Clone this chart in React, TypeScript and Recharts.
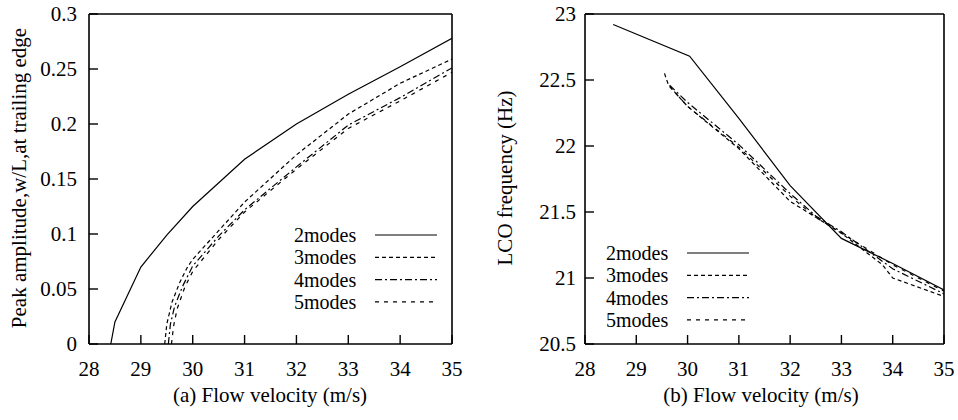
import { LineChart, Line, XAxis, YAxis, Legend } from "recharts"

const modeNames = ["2modes", "3modes", "4modes", "5modes"]
const modeDashes = ["", "4 3", "7 3 2 3", "4 5"]

const velocityTicks = [28, 29, 30, 31, 32, 33, 34, 35]
const amplitudeTicks = [0, 0.05, 0.1, 0.15, 0.2, 0.25, 0.3]
const frequencyTicks = [20.5, 21, 21.5, 22, 22.5, 23]

// (a) peak amplitude
const ampVel2 = [28.42, 28.5, 29, 29.5, 30, 31, 32, 33, 34, 35]
const amp2 = [0, 0.02, 0.07, 0.099, 0.125, 0.168, 0.2, 0.227, 0.252, 0.278]
const ampVel3 = [29.46, 29.5, 29.6, 29.75, 29.9, 30, 30.5, 31, 32, 33, 34, 35]
const amp3 = [0, 0.018, 0.038, 0.056, 0.07, 0.077, 0.103, 0.129, 0.172, 0.209, 0.237, 0.259]
const ampVel4 = [29.53, 29.57, 29.65, 29.8, 30, 30.5, 31, 32, 33, 34, 35]
const amp4 = [0, 0.018, 0.034, 0.052, 0.071, 0.098, 0.122, 0.161, 0.199, 0.224, 0.251]
const ampVel5 = [29.59, 29.63, 29.7, 29.85, 30, 30.5, 31, 32, 33, 34, 35]
const amp5 = [0, 0.016, 0.032, 0.052, 0.066, 0.095, 0.12, 0.159, 0.196, 0.221, 0.247]

// (b) LCO frequency
const freqVel2 = [28.55, 30.04, 31, 32, 33, 34, 35]
const freq2 = [22.92, 22.68, 22.21, 21.7, 21.3, 21.11, 20.91]
const freqVel3 = [29.55, 29.62, 29.7, 30, 31, 32, 32.5, 33, 33.5, 33.8, 34, 35]
const freq3 = [22.55, 22.47, 22.43, 22.3, 21.98, 21.58, 21.46, 21.34, 21.19, 21.1, 21.0, 20.86]
const freqVel4 = [29.65, 30, 31, 32, 32.5, 33, 34, 35]
const freq4 = [22.46, 22.33, 22.01, 21.64, 21.47, 21.35, 21.07, 20.88]
const freqVel5 = [29.65, 30, 31, 32, 32.5, 33, 34, 35]
const freq5 = [22.45, 22.3, 21.99, 21.62, 21.46, 21.34, 21.1, 20.9]

const zip = (xs: number[], ys: number[]) => xs.map((x, i) => ({ x, y: ys[i] }))

const ampSeries = [zip(ampVel2, amp2), zip(ampVel3, amp3), zip(ampVel4, amp4), zip(ampVel5, amp5)]
const freqSeries = [zip(freqVel2, freq2), zip(freqVel3, freq3), zip(freqVel4, freq4), zip(freqVel5, freq5)]

const font = "Liberation Serif, Times New Roman, Times, DejaVu Serif, serif"
const tickStyle = { fontFamily: font, fontSize: 21, fill: "#000" }
const axisLine = { stroke: "#000", strokeWidth: 1.6 }
const tickLine = { stroke: "#000", strokeWidth: 1.4 }

function ModeLegend() {
  return (
    <svg width={170} height={94} style={{ display: "block", fontFamily: font }}>
      {modeNames.map((name, i) => (
        <g key={name}>
          <text
            x={0}
            y={13 + i * 22.3}
            dominantBaseline="central"
            style={{ fontFamily: font, fontSize: 20 }}
            fill="#000"
          >
            {name}
          </text>
          <line
            x1={81}
            x2={143}
            y1={13 + i * 22.3}
            y2={13 + i * 22.3}
            stroke="#000"
            strokeWidth={1.2}
            strokeDasharray={modeDashes[i] || undefined}
          />
        </g>
      ))}
    </svg>
  )
}

type PanelProps = {
  series: { x: number; y: number }[][]
  yTicks: number[]
  yDomain: [number, number]
  yAxisWidth: number
  rightWidth: number
  yTickMargin: number
  yLabel: string
  yLabelX: number
  xLabel: string
  xLabelX: number
  legendLeft: number
  legendTop: number
}

function Panel(p: PanelProps) {
  return (
    <LineChart width={479} height={420} margin={{ top: 0, right: 0, bottom: 0, left: 0 }} style={{ fontFamily: font }}>
      <XAxis
        xAxisId="b"
        type="number"
        dataKey="x"
        domain={[28, 35]}
        ticks={velocityTicks}
        allowDataOverflow
        height={76}
        tickSize={-9}
        tickMargin={26}
        tick={tickStyle}
        axisLine={axisLine}
        tickLine={tickLine}
        label={{
          content: () => (
            <text x={p.xLabelX} y={395} textAnchor="middle" dominantBaseline="central" style={{ fontFamily: font, fontSize: 21 }} fill="#000">
              {p.xLabel}
            </text>
          ),
        }}
      />
      <XAxis
        xAxisId="t"
        orientation="top"
        type="number"
        dataKey="x"
        domain={[28, 35]}
        ticks={velocityTicks}
        allowDataOverflow
        height={14}
        tickSize={-9}
        tick={false}
        axisLine={axisLine}
        tickLine={tickLine}
      />
      <YAxis
        yAxisId="l"
        type="number"
        dataKey="y"
        domain={p.yDomain}
        ticks={p.yTicks}
        allowDataOverflow
        width={p.yAxisWidth}
        tickSize={-9}
        tickMargin={p.yTickMargin}
        tick={tickStyle}
        axisLine={axisLine}
        tickLine={tickLine}
        label={{
          content: () => (
            <text
              x={p.yLabelX}
              y={178}
              transform={`rotate(-90 ${p.yLabelX} 178)`}
              textAnchor="middle"
              dominantBaseline="central"
              style={{ fontFamily: font, fontSize: 21 }}
              fill="#000"
            >
              {p.yLabel}
            </text>
          ),
        }}
      />
      <YAxis
        yAxisId="r"
        orientation="right"
        type="number"
        dataKey="y"
        domain={p.yDomain}
        ticks={p.yTicks}
        allowDataOverflow
        width={p.rightWidth}
        tickSize={-9}
        tick={false}
        axisLine={axisLine}
        tickLine={tickLine}
      />
      {p.series.map((d, i) => (
        <Line
          key={modeNames[i]}
          xAxisId="b"
          yAxisId="l"
          data={d}
          dataKey="y"
          name={modeNames[i]}
          type="linear"
          stroke="#000"
          strokeWidth={1.2}
          strokeDasharray={modeDashes[i] || undefined}
          dot={false}
          activeDot={false}
          isAnimationActive={false}
        />
      ))}
      <Legend
        layout="vertical"
        align="center"
        verticalAlign="middle"
        content={<ModeLegend />}
        wrapperStyle={{ left: p.legendLeft, top: p.legendTop, width: 170 }}
      />
    </LineChart>
  )
}

export default function App() {
  return (
    <div style={{ position: "absolute", left: 0, top: 0, width: 958, height: 420, background: "#fff", fontFamily: font }}>
      <div style={{ position: "absolute", left: 0, top: 0 }}>
        <Panel
          series={ampSeries}
          yTicks={amplitudeTicks}
          yDomain={[0, 0.3]}
          yAxisWidth={89}
          rightWidth={27}
          yTickMargin={21}
          yLabel="Peak amplitude,w/L,at trailing edge"
          yLabelX={19}
          xLabel="(a) Flow velocity (m/s)"
          xLabelX={270}
          legendLeft={294}
          legendTop={222}
        />
      </div>
      <div style={{ position: "absolute", left: 479, top: 0 }}>
        <Panel
          series={freqSeries}
          yTicks={frequencyTicks}
          yDomain={[20.5, 23]}
          yAxisWidth={106}
          rightWidth={14}
          yTickMargin={18}
          yLabel="LCO frequency (Hz)"
          yLabelX={26}
          xLabel="(b) Flow velocity (m/s)"
          xLabelX={282}
          legendLeft={127}
          legendTop={240}
        />
      </div>
    </div>
  )
}
